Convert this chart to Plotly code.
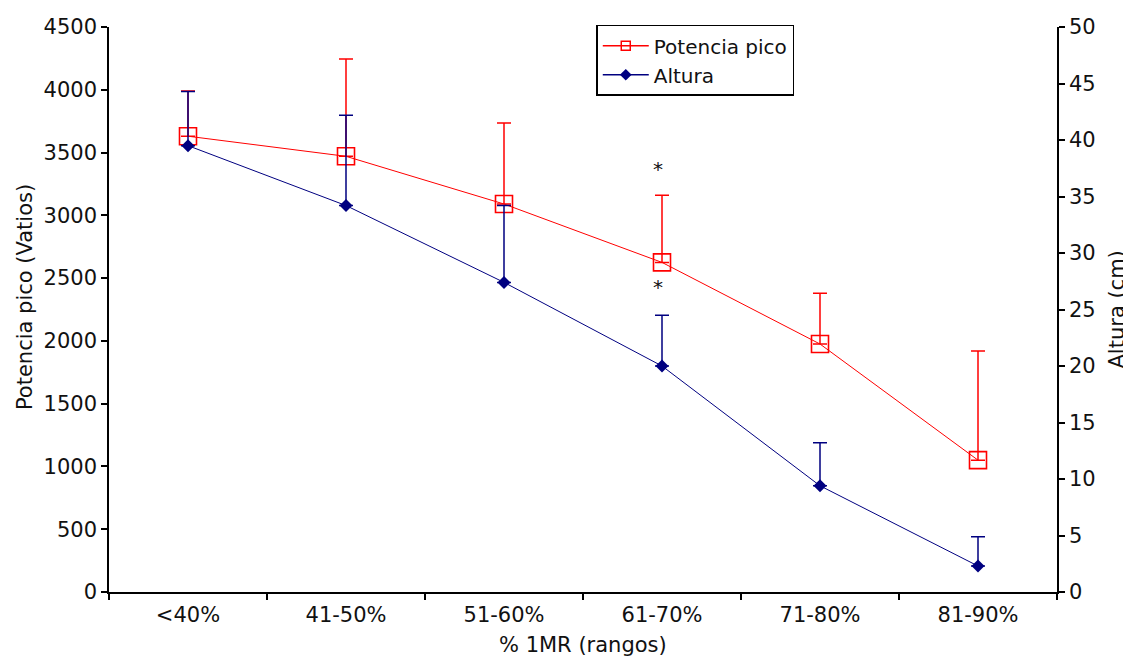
import plotly.graph_objects as go

categories = ["<40%", "41-50%", "51-60%", "61-70%", "71-80%", "81-90%"]
potencia = [3630, 3470, 3090, 2625, 1975, 1050]
potencia_err = [360, 775, 645, 535, 405, 870]
altura = [39.5, 34.2, 27.4, 20.0, 9.4, 2.3]
altura_err = [4.8, 8.0, 6.8, 4.5, 3.8, 2.6]
asterisk_cat = ["61-70%", "61-70%"]
asterisk_y = [3370, 2430]

FONT = "DejaVu Sans"
TXT = "#111111"
TICK_SIZE = 21
TITLE_SIZE = 21
LEGEND_SIZE = 20

fig = go.Figure()
fig.add_trace(go.Scatter(
    x=categories, y=potencia, name="Potencia pico", mode="lines+markers",
    showlegend=False,
    line=dict(color="#FF0000", width=1),
    marker=dict(symbol="square-open", size=17, color="#FF0000", line=dict(width=1.6)),
    error_y=dict(type="data", symmetric=False, array=potencia_err,
                 arrayminus=[0] * len(potencia_err), color="#FF0000",
                 thickness=1.5, width=7),
))
fig.add_trace(go.Scatter(
    x=categories, y=altura, name="Altura", mode="lines+markers", yaxis="y2",
    showlegend=False,
    line=dict(color="#000080", width=1),
    marker=dict(symbol="diamond", size=10, color="#000080"),
    error_y=dict(type="data", symmetric=False, array=altura_err,
                 arrayminus=[0] * len(altura_err), color="#000080",
                 thickness=1.5, width=7),
))
# legend-only entries with smaller symbols, as in the reference legend
fig.add_trace(go.Scatter(
    x=[None], y=[None], name="Potencia pico", mode="lines+markers",
    line=dict(color="#FF0000", width=1.5),
    marker=dict(symbol="square-open", size=9, color="#FF0000", line=dict(width=1.5)),
))
fig.add_trace(go.Scatter(
    x=[None], y=[None], name="Altura", mode="lines+markers", yaxis="y2",
    line=dict(color="#000080", width=1.5),
    marker=dict(symbol="diamond", size=9, color="#000080"),
))

for c, yv in zip(asterisk_cat, asterisk_y):
    fig.add_annotation(x=c, y=yv, xref="x", yref="y", text="*", showarrow=False,
                       xshift=-4, font=dict(family=FONT, size=20, color=TXT))

# axis titles as annotations for exact placement
fig.add_annotation(x=0, y=0.522, xref="paper", yref="paper", xshift=-84,
                   text="Potencia pico (Vatios)", textangle=-90, showarrow=False,
                   xanchor="center", yanchor="middle",
                   font=dict(family=FONT, size=TITLE_SIZE, color=TXT))
fig.add_annotation(x=1, y=0.5, xref="paper", yref="paper", xshift=59,
                   text="Altura (cm)", textangle=-90, showarrow=False,
                   xanchor="center", yanchor="middle",
                   font=dict(family=FONT, size=TITLE_SIZE, color=TXT))
fig.add_annotation(x=0.5, y=0, xref="paper", yref="paper", yshift=-53,
                   text="% 1MR (rangos)", showarrow=False,
                   xanchor="center", yanchor="middle",
                   font=dict(family=FONT, size=TITLE_SIZE, color=TXT))

axis_common = dict(showgrid=False, zeroline=False, showline=True, linecolor="#000000",
                   linewidth=1.5, ticks="outside", ticklen=6, tickcolor="#000000",
                   tickwidth=1.5, automargin=False,
                   tickfont=dict(family=FONT, size=TICK_SIZE, color=TXT))

fig.update_layout(
    width=1123, height=651,
    margin=dict(l=101, r=74, t=19, b=67, autoexpand=False),
    paper_bgcolor="#FFFFFF", plot_bgcolor="#FFFFFF",
    font=dict(family=FONT, size=TICK_SIZE, color=TXT),
    showlegend=True,
    legend=dict(x=0.514, y=1.004, xanchor="left", yanchor="top",
                bgcolor="#FFFFFF", bordercolor="#000000", borderwidth=1.5,
                font=dict(family=FONT, size=LEGEND_SIZE, color=TXT),
                tracegroupgap=0, itemwidth=46),
    xaxis=dict(**axis_common, type="category", tickson="boundaries",
               range=[-0.5, 5.5], ticklabelstandoff=3),
    yaxis=dict(**axis_common, range=[0, 4500], dtick=500),
    yaxis2=dict(**axis_common, range=[0, 50], dtick=5, overlaying="y", side="right"),
)

fig.write_html("out.html")
